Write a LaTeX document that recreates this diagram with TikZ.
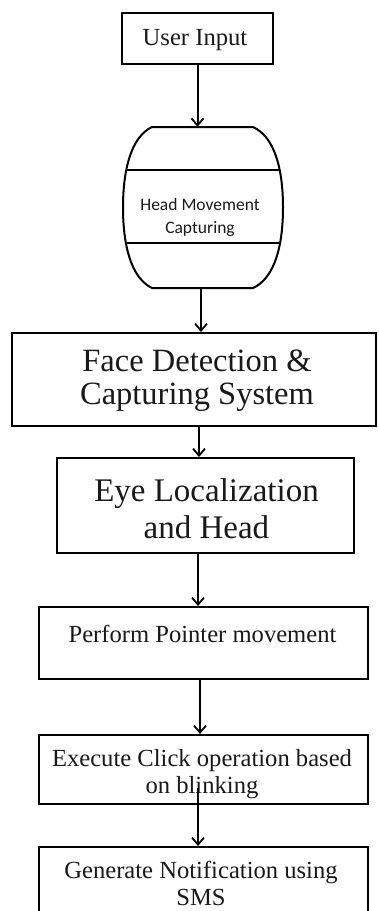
\documentclass[tikz,border=0pt]{standalone}
\usepackage{fontspec}
\setmainfont{Liberation Serif}
\newfontfamily\carlito{Carlito}
\usetikzlibrary{arrows.meta,calc}
\tikzset{
  box/.style={draw, line width=2pt, rectangle, inner sep=0pt},
  txt/.style={align=center, inner sep=0pt, text=black!90},
  arr/.style={line width=2pt, -{Straight Barb[length=7pt,width=12pt,line width=1.8pt]}},
  midfont/.style={font=\fontsize{24.6}{27}\selectfont},
}
\begin{document}
\begin{tikzpicture}[x=1pt,y=-1pt]
\clip (0,0) rectangle (379,911);
% boxes
\node[box, minimum width=151, minimum height=51] (user) at (197.5,38.5) {};
\node[minimum width=160, minimum height=161, inner sep=0pt] (drum) at (203,207.5) {};
\node[box, minimum width=364, minimum height=93] (face) at (194,379.5) {};
\node[box, minimum width=297, minimum height=95] (eye) at (205.5,505.5) {};
\node[box, minimum width=329, minimum height=72] (perform) at (203.5,643) {};
\node[box, minimum width=329, minimum height=69] (execute) at (203.5,769.5) {};
\node[box, minimum width=329, minimum height=88] (generate) at (203.5,891) {};
% drum shape
\draw[line width=2pt] (152,127) -- (253,127)
  .. controls (275,137) and (283,170) .. (283,207.5)
  .. controls (283,245) and (275,278) .. (253,288)
  -- (152,288)
  .. controls (131,278) and (123,245) .. (123,207.5)
  .. controls (123,170) and (131,137) .. cycle;
\draw[line width=2pt] (126,170) -- (280,170);
\draw[line width=2pt] (126,243) -- (280,243);
% texts
\node[txt, midfont] (tuser) at (195,40.5) {User Input};
\node[txt, font=\carlito\fontsize{17.5}{23}\selectfont] (tdrum) at (200,217) {Head Movement\\Capturing};
\node[txt, font=\fontsize{32.5}{33}\selectfont] (tface) at (197,381) {Face Detection \&\\Capturing System};
\node[txt, font=\fontsize{33}{37}\selectfont] (teye) at (206.5,508.5) {Eye Localization\\and Head};
\node[txt, midfont] (tperform) at (202.5,633.5) {Perform Pointer movement};
\node[txt, midfont] (texecute) at (202,774) {Execute Click operation based\\on blinking};
\node[txt, midfont] (tgenerate) at (201,883.5) {Generate Notification using\\SMS};
% connectors
\draw[arr] (user.south) -- (user.south |- drum.north);
\draw[arr] ([xshift=-2pt]drum.south) -- ([xshift=-2pt]drum.south |- face.north);
\draw[arr] ([xshift=5pt]face.south) -- ([xshift=5pt]face.south |- eye.north);
\draw[arr] ([xshift=-7.5pt]eye.south) -- ([xshift=-7.5pt]eye.south |- perform.north);
\draw[arr] ([xshift=-3.5pt]perform.south) -- ([xshift=-3.5pt]perform.south |- execute.north);
\coordinate (c6) at (198,788);
\draw[arr] (c6) -- (c6 |- generate.north);
\end{tikzpicture}
\end{document}
